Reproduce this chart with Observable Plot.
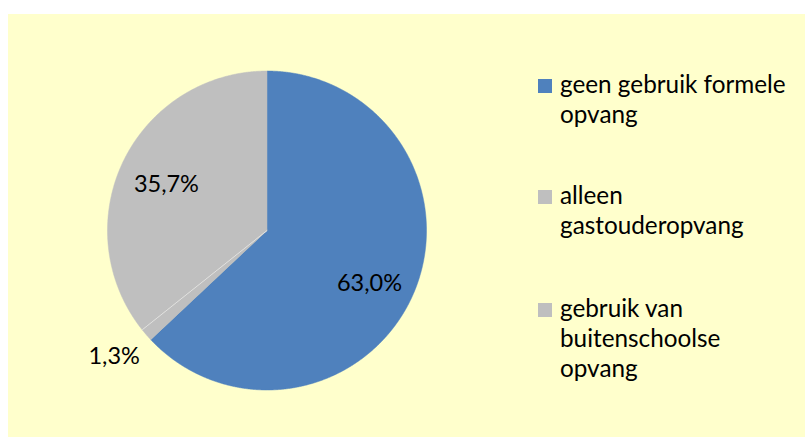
<!DOCTYPE html>
<html>
<head>
<meta charset="utf-8">
<script src="https://cdn.jsdelivr.net/npm/d3@7"></script>
<script src="https://cdn.jsdelivr.net/npm/@observablehq/plot@0.6"></script>
<style>
  html, body { margin: 0; padding: 0; background: #ffffff; }
  #wrap { position: relative; width: 805px; height: 437px; overflow: hidden; background: #ffffff; }
  #panel { position: absolute; left: 8px; top: 14px; width: 797px; height: 423px; background: #FFFFCC; }
  #chart { position: absolute; left: 0; top: 0; }
  .entry { position: absolute; left: 552px; font-family: Lato, "Open Sans", sans-serif; font-size: 24.3px; line-height: 30px; color: #000; white-space: nowrap; }
  .swatch { position: absolute; left: -22px; top: 10px; width: 14px; height: 14px; }
</style>
</head>
<body>
<div id="wrap"><div id="panel"><div id="chart"></div></div></div>
<script>
const categories = ["geen gebruik formele opvang", "alleen gastouderopvang", "gebruik van buitenschoolse opvang"];
const legendLines = [["geen gebruik formele", "opvang"], ["alleen", "gastouderopvang"], ["gebruik van", "buitenschoolse", "opvang"]];
const values = [63.0, 1.3, 35.7];
const labels = ["63,0%", "1,3%", "35,7%"];
const colors = ["#4F81BD", "#BFBFBF", "#BFBFBF"];

const total = d3.sum(values);
let acc = 0;
const slices = values.map((v, i) => {
  const a0 = acc / total * 2 * Math.PI;
  acc += v;
  const a1 = acc / total * 2 * Math.PI;
  return {name: categories[i], value: v, label: labels[i], a0, a1, mid: (a0 + a1) / 2, outside: v / total < 0.05};
});

const pts = [];
for (const s of slices) {
  pts.push({name: s.name, x: 0, y: 0});
  const n = Math.max(2, Math.ceil((s.a1 - s.a0) / 0.005));
  for (let k = 0; k <= n; k++) {
    const a = s.a0 + (s.a1 - s.a0) * k / n;
    pts.push({name: s.name, x: Math.sin(a), y: Math.cos(a)});
  }
  pts.push({name: s.name, x: 0, y: 0});
}

// boundary between the two grey slices
const seps = slices.slice(1, 2).map(s => ({x1: 0, y1: 0, x2: Math.sin(s.a1), y2: Math.cos(s.a1)}));

const inside = slices.filter(s => !s.outside).map(s => ({x: 0.7 * Math.sin(s.mid), y: 0.7 * Math.cos(s.mid) - (s.value > 50 ? 0.04 : 0), label: s.label}));
const outsideL = slices.filter(s => s.outside).map(s => ({x: 1.12 * Math.sin(s.mid), y: 1.12 * Math.cos(s.mid), label: s.label}));

const cx = 258.5, cy = 216, R = 159.5;

const chart = Plot.plot({
  width: 797,
  height: 423,
  margin: 0,
  style: {background: "transparent", overflow: "visible"},
  x: {type: "linear", domain: [-1, 1], range: [cx - R, cx + R], axis: null},
  y: {type: "linear", domain: [-1, 1], range: [cy + R, cy - R], axis: null},
  color: {domain: categories, range: colors},
  marks: [
    Plot.line(pts, {x: "x", y: "y", z: "name", fill: "name", stroke: "name", strokeWidth: 0.5, curve: "linear"}),
    Plot.link(seps, {x1: "x1", y1: "y1", x2: "x2", y2: "y2", stroke: "#E8E8E8", strokeWidth: 0.8}),
    Plot.text(inside, {x: "x", y: "y", text: "label", fontSize: 23.5, fontFamily: "Lato, 'Open Sans', sans-serif", fill: "#000", dy: 2}),
    Plot.text(outsideL, {x: "x", y: "y", text: "label", fontSize: 23.5, fontFamily: "Lato, 'Open Sans', sans-serif", fill: "#000", textAnchor: "end", dx: 8, dy: 9})
  ]
});
document.getElementById("chart").appendChild(chart);

const panel = document.getElementById("panel");
const tops = [55, 166, 279];
legendLines.forEach((lines, i) => {
  const e = document.createElement("div");
  e.className = "entry";
  e.style.top = tops[i] + "px";
  const sw = document.createElement("div");
  sw.className = "swatch";
  sw.style.background = colors[i];
  e.appendChild(sw);
  lines.forEach(t => { const l = document.createElement("div"); l.textContent = t; e.appendChild(l); });
  panel.appendChild(e);
});
</script>
</body>
</html>
